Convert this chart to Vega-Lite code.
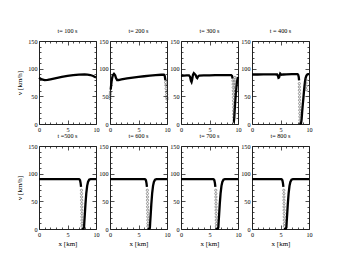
{
"$schema": "https://vega.github.io/schema/vega-lite/v6.json",
"padding": {"left": 15, "top": 27, "right": 5, "bottom": 5},
"background": "white",
"bounds": "flush",
"columns": 4,
"spacing": {"row": 22, "column": 14},
"config": {
  "view": {"stroke": "#222", "strokeWidth": 1},
  "title": {"font": "Liberation Serif", "fontSize": 6.2, "fontWeight": "normal", "color": "black", "offset": 4},
  "axis": {"labelFont": "Liberation Serif", "labelFontSize": 6.2, "labelColor": "black", "titleFont": "Liberation Serif", "titleFontSize": 7, "titleFontWeight": "normal", "titleColor": "black", "ticks": false, "domain": false, "grid": true, "gridColor": "#222", "gridOpacity": 1, "gridWidth": 0.8, "labelFlush": false, "labelOverlap": false, "labelPadding": 2},
  "axisX": {"titlePadding": 2},
  "axisY": {"titlePadding": 5}
},
"datasets": {"d": [
{"t":100,"x":0,"v":83.5,"k":"l","s":1},{"t":100,"x":0.5,"v":80.5,"k":"l","s":1},{"t":100,"x":1,"v":79.3,"k":"l","s":1},{"t":100,"x":1.5,"v":79.6,"k":"l","s":1},{"t":100,"x":2,"v":80.6,"k":"l","s":1},{"t":100,"x":3,"v":82.8,"k":"l","s":1},{"t":100,"x":4,"v":85,"k":"l","s":1},{"t":100,"x":5,"v":86.8,"k":"l","s":1},{"t":100,"x":6,"v":88.2,"k":"l","s":1},{"t":100,"x":7,"v":89.2,"k":"l","s":1},{"t":100,"x":8,"v":89.6,"k":"l","s":1},{"t":100,"x":8.5,"v":89.3,"k":"l","s":1},{"t":100,"x":9,"v":88.5,"k":"l","s":1},{"t":100,"x":9.5,"v":86.8,"k":"l","s":1},{"t":100,"x":10,"v":84,"k":"l","s":1},

{"t":200,"x":0.12,"v":62,"k":"l","s":1},{"t":200,"x":0.2,"v":70,"k":"l","s":1},{"t":200,"x":0.28,"v":77,"k":"l","s":1},{"t":200,"x":0.38,"v":83,"k":"l","s":1},{"t":200,"x":0.5,"v":88,"k":"l","s":1},{"t":200,"x":0.7,"v":90.5,"k":"l","s":1},{"t":200,"x":0.9,"v":88,"k":"l","s":1},{"t":200,"x":1.05,"v":83,"k":"l","s":1},{"t":200,"x":1.25,"v":79.5,"k":"l","s":1},{"t":200,"x":1.5,"v":79.5,"k":"l","s":1},{"t":200,"x":2,"v":80.8,"k":"l","s":1},{"t":200,"x":3,"v":82.6,"k":"l","s":1},{"t":200,"x":4,"v":84,"k":"l","s":1},{"t":200,"x":5,"v":85.2,"k":"l","s":1},{"t":200,"x":6,"v":86.3,"k":"l","s":1},{"t":200,"x":7,"v":87.3,"k":"l","s":1},{"t":200,"x":8,"v":88.2,"k":"l","s":1},{"t":200,"x":9,"v":89,"k":"l","s":1},{"t":200,"x":9.45,"v":89,"k":"l","s":1},{"t":200,"x":9.6,"v":87,"k":"l","s":1},{"t":200,"x":9.72,"v":79,"k":"l","s":1},
{"t":200,"x":0.01,"v":46,"k":"p","s":0},{"t":200,"x":0.03,"v":50,"k":"p","s":0},{"t":200,"x":0.05,"v":54,"k":"p","s":0},{"t":200,"x":0.08,"v":58,"k":"p","s":0},{"t":200,"x":9.76,"v":75,"k":"p","s":0},{"t":200,"x":9.8,"v":70,"k":"p","s":0},{"t":200,"x":9.85,"v":64,"k":"p","s":0},{"t":200,"x":9.9,"v":58,"k":"p","s":0},{"t":200,"x":9.94,"v":53,"k":"p","s":0},{"t":200,"x":9.97,"v":48,"k":"p","s":0},{"t":200,"x":10,"v":45,"k":"p","s":0},

{"t":300,"x":0,"v":87,"k":"l","s":1},{"t":300,"x":0.5,"v":87.5,"k":"l","s":1},{"t":300,"x":1,"v":87.8,"k":"l","s":1},{"t":300,"x":1.4,"v":88,"k":"l","s":1},{"t":300,"x":1.6,"v":85,"k":"l","s":1},{"t":300,"x":1.75,"v":78,"k":"l","s":1},{"t":300,"x":1.85,"v":76,"k":"l","s":1},{"t":300,"x":1.95,"v":80,"k":"l","s":1},{"t":300,"x":2.1,"v":89,"k":"l","s":1},{"t":300,"x":2.25,"v":92,"k":"l","s":1},{"t":300,"x":2.4,"v":90.5,"k":"l","s":1},{"t":300,"x":2.6,"v":88,"k":"l","s":1},{"t":300,"x":2.75,"v":84,"k":"l","s":1},{"t":300,"x":2.85,"v":83,"k":"l","s":1},{"t":300,"x":3.0,"v":86,"k":"l","s":1},{"t":300,"x":3.2,"v":87.5,"k":"l","s":1},{"t":300,"x":4,"v":87.8,"k":"l","s":1},{"t":300,"x":5,"v":88,"k":"l","s":1},{"t":300,"x":6,"v":88.2,"k":"l","s":1},{"t":300,"x":7,"v":88.3,"k":"l","s":1},{"t":300,"x":8,"v":88.4,"k":"l","s":1},{"t":300,"x":8.8,"v":88.4,"k":"l","s":1},{"t":300,"x":8.95,"v":87,"k":"l","s":1},{"t":300,"x":9.05,"v":82,"k":"l","s":1},
{"t":300,"x":9.12,"v":78,"k":"p","s":0},{"t":300,"x":9.15,"v":72,"k":"p","s":0},{"t":300,"x":9.17,"v":66,"k":"p","s":0},{"t":300,"x":9.19,"v":60,"k":"p","s":0},{"t":300,"x":9.2,"v":54,"k":"p","s":0},{"t":300,"x":9.21,"v":48,"k":"p","s":0},{"t":300,"x":9.22,"v":42,"k":"p","s":0},{"t":300,"x":9.23,"v":36,"k":"p","s":0},{"t":300,"x":9.24,"v":30,"k":"p","s":0},{"t":300,"x":9.245,"v":24,"k":"p","s":0},{"t":300,"x":9.25,"v":18,"k":"p","s":0},{"t":300,"x":9.255,"v":12,"k":"p","s":0},{"t":300,"x":9.45,"v":84,"k":"p","s":0},{"t":300,"x":9.46,"v":78,"k":"p","s":0},{"t":300,"x":9.48,"v":72,"k":"p","s":0},{"t":300,"x":9.5,"v":66,"k":"p","s":0},{"t":300,"x":9.52,"v":60,"k":"p","s":0},{"t":300,"x":9.55,"v":54,"k":"p","s":0},
{"t":300,"x":9.22,"v":6,"k":"l","s":2},{"t":300,"x":9.28,"v":5,"k":"l","s":2},{"t":300,"x":9.33,"v":10,"k":"l","s":2},{"t":300,"x":9.4,"v":22,"k":"l","s":2},{"t":300,"x":9.5,"v":38,"k":"l","s":2},{"t":300,"x":9.6,"v":52,"k":"l","s":2},{"t":300,"x":9.7,"v":64,"k":"l","s":2},{"t":300,"x":9.8,"v":74,"k":"l","s":2},{"t":300,"x":9.9,"v":81,"k":"l","s":2},{"t":300,"x":10,"v":85,"k":"l","s":2},

{"t":400,"x":0,"v":89.5,"k":"l","s":1},{"t":400,"x":1,"v":89.5,"k":"l","s":1},{"t":400,"x":2,"v":89.6,"k":"l","s":1},{"t":400,"x":3,"v":89.7,"k":"l","s":1},{"t":400,"x":4,"v":89.7,"k":"l","s":1},{"t":400,"x":4.4,"v":89.5,"k":"l","s":1},{"t":400,"x":4.55,"v":87,"k":"l","s":1},{"t":400,"x":4.65,"v":83.5,"k":"l","s":1},{"t":400,"x":4.75,"v":84,"k":"l","s":1},{"t":400,"x":4.85,"v":88,"k":"l","s":1},{"t":400,"x":4.95,"v":91,"k":"l","s":1},{"t":400,"x":5.05,"v":90,"k":"l","s":1},{"t":400,"x":5.2,"v":89,"k":"l","s":1},{"t":400,"x":5.5,"v":89.5,"k":"l","s":1},{"t":400,"x":6,"v":89.8,"k":"l","s":1},{"t":400,"x":7,"v":90,"k":"l","s":1},{"t":400,"x":8,"v":90,"k":"l","s":1},{"t":400,"x":8.1,"v":89,"k":"l","s":1},{"t":400,"x":8.2,"v":85,"k":"l","s":1},{"t":400,"x":8.26,"v":79,"k":"l","s":1},
{"t":400,"x":8.3,"v":73,"k":"p","s":0},{"t":400,"x":8.31,"v":67,"k":"p","s":0},{"t":400,"x":8.32,"v":61,"k":"p","s":0},{"t":400,"x":8.33,"v":55,"k":"p","s":0},{"t":400,"x":8.34,"v":49,"k":"p","s":0},{"t":400,"x":8.35,"v":43,"k":"p","s":0},{"t":400,"x":8.36,"v":37,"k":"p","s":0},{"t":400,"x":8.37,"v":31,"k":"p","s":0},{"t":400,"x":8.38,"v":25,"k":"p","s":0},{"t":400,"x":8.39,"v":19,"k":"p","s":0},{"t":400,"x":8.4,"v":13,"k":"p","s":0},{"t":400,"x":8.41,"v":7,"k":"p","s":0},{"t":400,"x":9.45,"v":80,"k":"p","s":0},{"t":400,"x":9.48,"v":74,"k":"p","s":0},{"t":400,"x":9.5,"v":68,"k":"p","s":0},{"t":400,"x":9.52,"v":62,"k":"p","s":0},
{"t":400,"x":8.42,"v":3,"k":"l","s":2},{"t":400,"x":8.5,"v":1,"k":"l","s":2},{"t":400,"x":8.6,"v":1.5,"k":"l","s":2},{"t":400,"x":8.7,"v":8,"k":"l","s":2},{"t":400,"x":8.8,"v":22,"k":"l","s":2},{"t":400,"x":8.9,"v":34,"k":"l","s":2},{"t":400,"x":9.0,"v":45,"k":"l","s":2},{"t":400,"x":9.1,"v":57,"k":"l","s":2},{"t":400,"x":9.2,"v":68,"k":"l","s":2},{"t":400,"x":9.3,"v":77,"k":"l","s":2},{"t":400,"x":9.4,"v":83,"k":"l","s":2},{"t":400,"x":9.55,"v":87.5,"k":"l","s":2},{"t":400,"x":9.7,"v":89.5,"k":"l","s":2},{"t":400,"x":9.85,"v":90,"k":"l","s":2},{"t":400,"x":10,"v":90,"k":"l","s":2},

{"t":500,"x":0,"v":90,"k":"l","s":1},{"t":500,"x":3,"v":90,"k":"l","s":1},{"t":500,"x":6,"v":90,"k":"l","s":1},{"t":500,"x":7.0,"v":90,"k":"l","s":1},{"t":500,"x":7.1,"v":89.5,"k":"l","s":1},{"t":500,"x":7.2,"v":88,"k":"l","s":1},{"t":500,"x":7.3,"v":83,"k":"l","s":1},{"t":500,"x":7.38,"v":76,"k":"l","s":1},
{"t":500,"x":7.45,"v":70,"k":"p","s":0},{"t":500,"x":7.46,"v":64,"k":"p","s":0},{"t":500,"x":7.47,"v":58,"k":"p","s":0},{"t":500,"x":7.48,"v":52,"k":"p","s":0},{"t":500,"x":7.49,"v":46,"k":"p","s":0},{"t":500,"x":7.5,"v":40,"k":"p","s":0},{"t":500,"x":7.51,"v":34,"k":"p","s":0},{"t":500,"x":7.52,"v":28,"k":"p","s":0},{"t":500,"x":7.53,"v":22,"k":"p","s":0},{"t":500,"x":7.54,"v":16,"k":"p","s":0},{"t":500,"x":7.55,"v":10,"k":"p","s":0},{"t":500,"x":7.56,"v":5,"k":"p","s":0},
{"t":500,"x":7.58,"v":2,"k":"l","s":2},{"t":500,"x":7.65,"v":0.8,"k":"l","s":2},{"t":500,"x":7.8,"v":0.8,"k":"l","s":2},{"t":500,"x":7.9,"v":3,"k":"l","s":2},{"t":500,"x":7.95,"v":12,"k":"l","s":2},{"t":500,"x":8.05,"v":28,"k":"l","s":2},{"t":500,"x":8.15,"v":45,"k":"l","s":2},{"t":500,"x":8.3,"v":65,"k":"l","s":2},{"t":500,"x":8.45,"v":78,"k":"l","s":2},{"t":500,"x":8.6,"v":85,"k":"l","s":2},{"t":500,"x":8.8,"v":89,"k":"l","s":2},{"t":500,"x":9.05,"v":90,"k":"l","s":2},{"t":500,"x":10,"v":90,"k":"l","s":2},

{"t":600,"x":0,"v":90,"k":"l","s":1},{"t":600,"x":3,"v":90,"k":"l","s":1},{"t":600,"x":6.1,"v":90,"k":"l","s":1},{"t":600,"x":6.2,"v":89.5,"k":"l","s":1},{"t":600,"x":6.3,"v":88,"k":"l","s":1},{"t":600,"x":6.4,"v":83,"k":"l","s":1},{"t":600,"x":6.48,"v":76,"k":"l","s":1},
{"t":600,"x":6.55,"v":70,"k":"p","s":0},{"t":600,"x":6.56,"v":64,"k":"p","s":0},{"t":600,"x":6.57,"v":58,"k":"p","s":0},{"t":600,"x":6.58,"v":52,"k":"p","s":0},{"t":600,"x":6.59,"v":46,"k":"p","s":0},{"t":600,"x":6.6,"v":40,"k":"p","s":0},{"t":600,"x":6.61,"v":34,"k":"p","s":0},{"t":600,"x":6.62,"v":28,"k":"p","s":0},{"t":600,"x":6.63,"v":22,"k":"p","s":0},{"t":600,"x":6.64,"v":16,"k":"p","s":0},{"t":600,"x":6.65,"v":10,"k":"p","s":0},{"t":600,"x":6.66,"v":5,"k":"p","s":0},
{"t":600,"x":6.68,"v":2,"k":"l","s":2},{"t":600,"x":6.75,"v":0.8,"k":"l","s":2},{"t":600,"x":6.9,"v":0.8,"k":"l","s":2},{"t":600,"x":7.0,"v":3,"k":"l","s":2},{"t":600,"x":7.05,"v":12,"k":"l","s":2},{"t":600,"x":7.15,"v":28,"k":"l","s":2},{"t":600,"x":7.25,"v":45,"k":"l","s":2},{"t":600,"x":7.4,"v":65,"k":"l","s":2},{"t":600,"x":7.55,"v":78,"k":"l","s":2},{"t":600,"x":7.7,"v":85,"k":"l","s":2},{"t":600,"x":7.9,"v":89,"k":"l","s":2},{"t":600,"x":8.15,"v":90,"k":"l","s":2},{"t":600,"x":10,"v":90,"k":"l","s":2},

{"t":700,"x":0,"v":90,"k":"l","s":1},{"t":700,"x":3,"v":90,"k":"l","s":1},{"t":700,"x":5.65,"v":90,"k":"l","s":1},{"t":700,"x":5.75,"v":89.5,"k":"l","s":1},{"t":700,"x":5.85,"v":88,"k":"l","s":1},{"t":700,"x":5.95,"v":83,"k":"l","s":1},{"t":700,"x":6.03,"v":76,"k":"l","s":1},
{"t":700,"x":6.1,"v":70,"k":"p","s":0},{"t":700,"x":6.11,"v":64,"k":"p","s":0},{"t":700,"x":6.12,"v":58,"k":"p","s":0},{"t":700,"x":6.13,"v":52,"k":"p","s":0},{"t":700,"x":6.14,"v":46,"k":"p","s":0},{"t":700,"x":6.15,"v":40,"k":"p","s":0},{"t":700,"x":6.16,"v":34,"k":"p","s":0},{"t":700,"x":6.17,"v":28,"k":"p","s":0},{"t":700,"x":6.18,"v":22,"k":"p","s":0},{"t":700,"x":6.19,"v":16,"k":"p","s":0},{"t":700,"x":6.2,"v":10,"k":"p","s":0},{"t":700,"x":6.21,"v":5,"k":"p","s":0},
{"t":700,"x":6.23,"v":2,"k":"l","s":2},{"t":700,"x":6.3,"v":0.8,"k":"l","s":2},{"t":700,"x":6.45,"v":0.8,"k":"l","s":2},{"t":700,"x":6.55,"v":3,"k":"l","s":2},{"t":700,"x":6.6,"v":12,"k":"l","s":2},{"t":700,"x":6.7,"v":28,"k":"l","s":2},{"t":700,"x":6.8,"v":45,"k":"l","s":2},{"t":700,"x":6.95,"v":65,"k":"l","s":2},{"t":700,"x":7.1,"v":78,"k":"l","s":2},{"t":700,"x":7.25,"v":85,"k":"l","s":2},{"t":700,"x":7.45,"v":89,"k":"l","s":2},{"t":700,"x":7.7,"v":90,"k":"l","s":2},{"t":700,"x":10,"v":90,"k":"l","s":2},

{"t":800,"x":0,"v":90,"k":"l","s":1},{"t":800,"x":3,"v":90,"k":"l","s":1},{"t":800,"x":5.13,"v":90,"k":"l","s":1},{"t":800,"x":5.23,"v":89.5,"k":"l","s":1},{"t":800,"x":5.33,"v":88,"k":"l","s":1},{"t":800,"x":5.43,"v":83,"k":"l","s":1},{"t":800,"x":5.51,"v":76,"k":"l","s":1},
{"t":800,"x":5.58,"v":70,"k":"p","s":0},{"t":800,"x":5.59,"v":64,"k":"p","s":0},{"t":800,"x":5.6,"v":58,"k":"p","s":0},{"t":800,"x":5.61,"v":52,"k":"p","s":0},{"t":800,"x":5.62,"v":46,"k":"p","s":0},{"t":800,"x":5.63,"v":40,"k":"p","s":0},{"t":800,"x":5.64,"v":34,"k":"p","s":0},{"t":800,"x":5.65,"v":28,"k":"p","s":0},{"t":800,"x":5.66,"v":22,"k":"p","s":0},{"t":800,"x":5.67,"v":16,"k":"p","s":0},{"t":800,"x":5.68,"v":10,"k":"p","s":0},{"t":800,"x":5.69,"v":5,"k":"p","s":0},
{"t":800,"x":5.71,"v":2,"k":"l","s":2},{"t":800,"x":5.78,"v":0.8,"k":"l","s":2},{"t":800,"x":5.93,"v":0.8,"k":"l","s":2},{"t":800,"x":6.03,"v":3,"k":"l","s":2},{"t":800,"x":6.08,"v":12,"k":"l","s":2},{"t":800,"x":6.18,"v":28,"k":"l","s":2},{"t":800,"x":6.28,"v":45,"k":"l","s":2},{"t":800,"x":6.43,"v":65,"k":"l","s":2},{"t":800,"x":6.58,"v":78,"k":"l","s":2},{"t":800,"x":6.73,"v":85,"k":"l","s":2},{"t":800,"x":6.93,"v":89,"k":"l","s":2},{"t":800,"x":7.18,"v":90,"k":"l","s":2},{"t":800,"x":10,"v":90,"k":"l","s":2}
]},
"concat": [
{"width":57,"height":83,"title":"t= 100 s","data":{"name":"d"},"transform":[{"filter":"datum.t==100"}],
 "encoding":{
  "x":{"field":"x","type":"quantitative","scale":{"domain":[0,10],"nice":false,"zero":false},"axis":{"title":null,"values":[0,1,2,3,4,5,6,7,8,9,10],"labelExpr":"datum.value % 5 == 0 ? datum.label : ''","gridDash":{"condition":{"test":"datum.value % 5 == 0","value":[4,75,4]},"value":[2,79,2]}}},
  "y":{"field":"v","type":"quantitative","scale":{"domain":[0,150],"nice":false},"axis":{"title":"v [km/h]","values":[0,10,20,30,40,50,60,70,80,90,100,110,120,130,140,150],"labelExpr":"datum.value % 50 == 0 ? datum.label : ''","gridDash":{"condition":{"test":"datum.value % 50 == 0","value":[4,49,4]},"value":[2,53,2]}}}},
 "layer":[
  {"transform":[{"filter":"datum.k=='l'"}],"mark":{"type":"line","color":"black","strokeWidth":2.3},"encoding":{"detail":{"field":"s"}}},
  {"transform":[{"filter":"datum.k=='p'"}],"mark":{"type":"point","filled":false,"color":"#333","size":5,"strokeWidth":0.7},"encoding":{}}
 ]},
{"width":57,"height":83,"title":"t= 200 s","data":{"name":"d"},"transform":[{"filter":"datum.t==200"}],
 "encoding":{
  "x":{"field":"x","type":"quantitative","scale":{"domain":[0,10],"nice":false,"zero":false},"axis":{"title":null,"values":[0,1,2,3,4,5,6,7,8,9,10],"labelExpr":"datum.value % 5 == 0 ? datum.label : ''","gridDash":{"condition":{"test":"datum.value % 5 == 0","value":[4,75,4]},"value":[2,79,2]}}},
  "y":{"field":"v","type":"quantitative","scale":{"domain":[0,150],"nice":false},"axis":{"title":null,"values":[0,10,20,30,40,50,60,70,80,90,100,110,120,130,140,150],"labelExpr":"datum.value % 50 == 0 ? datum.label : ''","gridDash":{"condition":{"test":"datum.value % 50 == 0","value":[4,49,4]},"value":[2,53,2]}}}},
 "layer":[
  {"transform":[{"filter":"datum.k=='l'"}],"mark":{"type":"line","color":"black","strokeWidth":2.3},"encoding":{"detail":{"field":"s"}}},
  {"transform":[{"filter":"datum.k=='p'"}],"mark":{"type":"point","filled":false,"color":"#333","size":5,"strokeWidth":0.7},"encoding":{}}
 ]},
{"width":57,"height":83,"title":"t= 300 s","data":{"name":"d"},"transform":[{"filter":"datum.t==300"}],
 "encoding":{
  "x":{"field":"x","type":"quantitative","scale":{"domain":[0,10],"nice":false,"zero":false},"axis":{"title":null,"values":[0,1,2,3,4,5,6,7,8,9,10],"labelExpr":"datum.value % 5 == 0 ? datum.label : ''","gridDash":{"condition":{"test":"datum.value % 5 == 0","value":[4,75,4]},"value":[2,79,2]}}},
  "y":{"field":"v","type":"quantitative","scale":{"domain":[0,150],"nice":false},"axis":{"title":null,"values":[0,10,20,30,40,50,60,70,80,90,100,110,120,130,140,150],"labelExpr":"datum.value % 50 == 0 ? datum.label : ''","gridDash":{"condition":{"test":"datum.value % 50 == 0","value":[4,49,4]},"value":[2,53,2]}}}},
 "layer":[
  {"transform":[{"filter":"datum.k=='l'"}],"mark":{"type":"line","color":"black","strokeWidth":2.3},"encoding":{"detail":{"field":"s"}}},
  {"transform":[{"filter":"datum.k=='p'"}],"mark":{"type":"point","filled":false,"color":"#333","size":5,"strokeWidth":0.7},"encoding":{}}
 ]},
{"width":57,"height":83,"title":"t = 400 s","data":{"name":"d"},"transform":[{"filter":"datum.t==400"}],
 "encoding":{
  "x":{"field":"x","type":"quantitative","scale":{"domain":[0,10],"nice":false,"zero":false},"axis":{"title":null,"values":[0,1,2,3,4,5,6,7,8,9,10],"labelExpr":"datum.value % 5 == 0 ? datum.label : ''","gridDash":{"condition":{"test":"datum.value % 5 == 0","value":[4,75,4]},"value":[2,79,2]}}},
  "y":{"field":"v","type":"quantitative","scale":{"domain":[0,150],"nice":false},"axis":{"title":null,"values":[0,10,20,30,40,50,60,70,80,90,100,110,120,130,140,150],"labelExpr":"datum.value % 50 == 0 ? datum.label : ''","gridDash":{"condition":{"test":"datum.value % 50 == 0","value":[4,49,4]},"value":[2,53,2]}}}},
 "layer":[
  {"transform":[{"filter":"datum.k=='l'"}],"mark":{"type":"line","color":"black","strokeWidth":2.3},"encoding":{"detail":{"field":"s"}}},
  {"transform":[{"filter":"datum.k=='p'"}],"mark":{"type":"point","filled":false,"color":"#333","size":5,"strokeWidth":0.7},"encoding":{}}
 ]},
{"width":57,"height":83,"title":"t =500 s","data":{"name":"d"},"transform":[{"filter":"datum.t==500"}],
 "encoding":{
  "x":{"field":"x","type":"quantitative","scale":{"domain":[0,10],"nice":false,"zero":false},"axis":{"title":"x [km]","values":[0,1,2,3,4,5,6,7,8,9,10],"labelExpr":"datum.value % 5 == 0 ? datum.label : ''","gridDash":{"condition":{"test":"datum.value % 5 == 0","value":[4,75,4]},"value":[2,79,2]}}},
  "y":{"field":"v","type":"quantitative","scale":{"domain":[0,150],"nice":false},"axis":{"title":"v [km/h]","values":[0,10,20,30,40,50,60,70,80,90,100,110,120,130,140,150],"labelExpr":"datum.value % 50 == 0 ? datum.label : ''","gridDash":{"condition":{"test":"datum.value % 50 == 0","value":[4,49,4]},"value":[2,53,2]}}}},
 "layer":[
  {"transform":[{"filter":"datum.k=='l'"}],"mark":{"type":"line","color":"black","strokeWidth":2.3},"encoding":{"detail":{"field":"s"}}},
  {"transform":[{"filter":"datum.k=='p'"}],"mark":{"type":"point","filled":false,"color":"#333","size":5,"strokeWidth":0.7},"encoding":{}}
 ]},
{"width":57,"height":83,"title":"t= 600 s","data":{"name":"d"},"transform":[{"filter":"datum.t==600"}],
 "encoding":{
  "x":{"field":"x","type":"quantitative","scale":{"domain":[0,10],"nice":false,"zero":false},"axis":{"title":"x [km]","values":[0,1,2,3,4,5,6,7,8,9,10],"labelExpr":"datum.value % 5 == 0 ? datum.label : ''","gridDash":{"condition":{"test":"datum.value % 5 == 0","value":[4,75,4]},"value":[2,79,2]}}},
  "y":{"field":"v","type":"quantitative","scale":{"domain":[0,150],"nice":false},"axis":{"title":null,"values":[0,10,20,30,40,50,60,70,80,90,100,110,120,130,140,150],"labelExpr":"datum.value % 50 == 0 ? datum.label : ''","gridDash":{"condition":{"test":"datum.value % 50 == 0","value":[4,49,4]},"value":[2,53,2]}}}},
 "layer":[
  {"transform":[{"filter":"datum.k=='l'"}],"mark":{"type":"line","color":"black","strokeWidth":2.3},"encoding":{"detail":{"field":"s"}}},
  {"transform":[{"filter":"datum.k=='p'"}],"mark":{"type":"point","filled":false,"color":"#333","size":5,"strokeWidth":0.7},"encoding":{}}
 ]},
{"width":57,"height":83,"title":"t= 700 s","data":{"name":"d"},"transform":[{"filter":"datum.t==700"}],
 "encoding":{
  "x":{"field":"x","type":"quantitative","scale":{"domain":[0,10],"nice":false,"zero":false},"axis":{"title":"x [km]","values":[0,1,2,3,4,5,6,7,8,9,10],"labelExpr":"datum.value % 5 == 0 ? datum.label : ''","gridDash":{"condition":{"test":"datum.value % 5 == 0","value":[4,75,4]},"value":[2,79,2]}}},
  "y":{"field":"v","type":"quantitative","scale":{"domain":[0,150],"nice":false},"axis":{"title":null,"values":[0,10,20,30,40,50,60,70,80,90,100,110,120,130,140,150],"labelExpr":"datum.value % 50 == 0 ? datum.label : ''","gridDash":{"condition":{"test":"datum.value % 50 == 0","value":[4,49,4]},"value":[2,53,2]}}}},
 "layer":[
  {"transform":[{"filter":"datum.k=='l'"}],"mark":{"type":"line","color":"black","strokeWidth":2.3},"encoding":{"detail":{"field":"s"}}},
  {"transform":[{"filter":"datum.k=='p'"}],"mark":{"type":"point","filled":false,"color":"#333","size":5,"strokeWidth":0.7},"encoding":{}}
 ]},
{"width":57,"height":83,"title":"t= 800 s","data":{"name":"d"},"transform":[{"filter":"datum.t==800"}],
 "encoding":{
  "x":{"field":"x","type":"quantitative","scale":{"domain":[0,10],"nice":false,"zero":false},"axis":{"title":"x [km]","values":[0,1,2,3,4,5,6,7,8,9,10],"labelExpr":"datum.value % 5 == 0 ? datum.label : ''","gridDash":{"condition":{"test":"datum.value % 5 == 0","value":[4,75,4]},"value":[2,79,2]}}},
  "y":{"field":"v","type":"quantitative","scale":{"domain":[0,150],"nice":false},"axis":{"title":null,"values":[0,10,20,30,40,50,60,70,80,90,100,110,120,130,140,150],"labelExpr":"datum.value % 50 == 0 ? datum.label : ''","gridDash":{"condition":{"test":"datum.value % 50 == 0","value":[4,49,4]},"value":[2,53,2]}}}},
 "layer":[
  {"transform":[{"filter":"datum.k=='l'"}],"mark":{"type":"line","color":"black","strokeWidth":2.3},"encoding":{"detail":{"field":"s"}}},
  {"transform":[{"filter":"datum.k=='p'"}],"mark":{"type":"point","filled":false,"color":"#333","size":5,"strokeWidth":0.7},"encoding":{}}
 ]}
]
}
